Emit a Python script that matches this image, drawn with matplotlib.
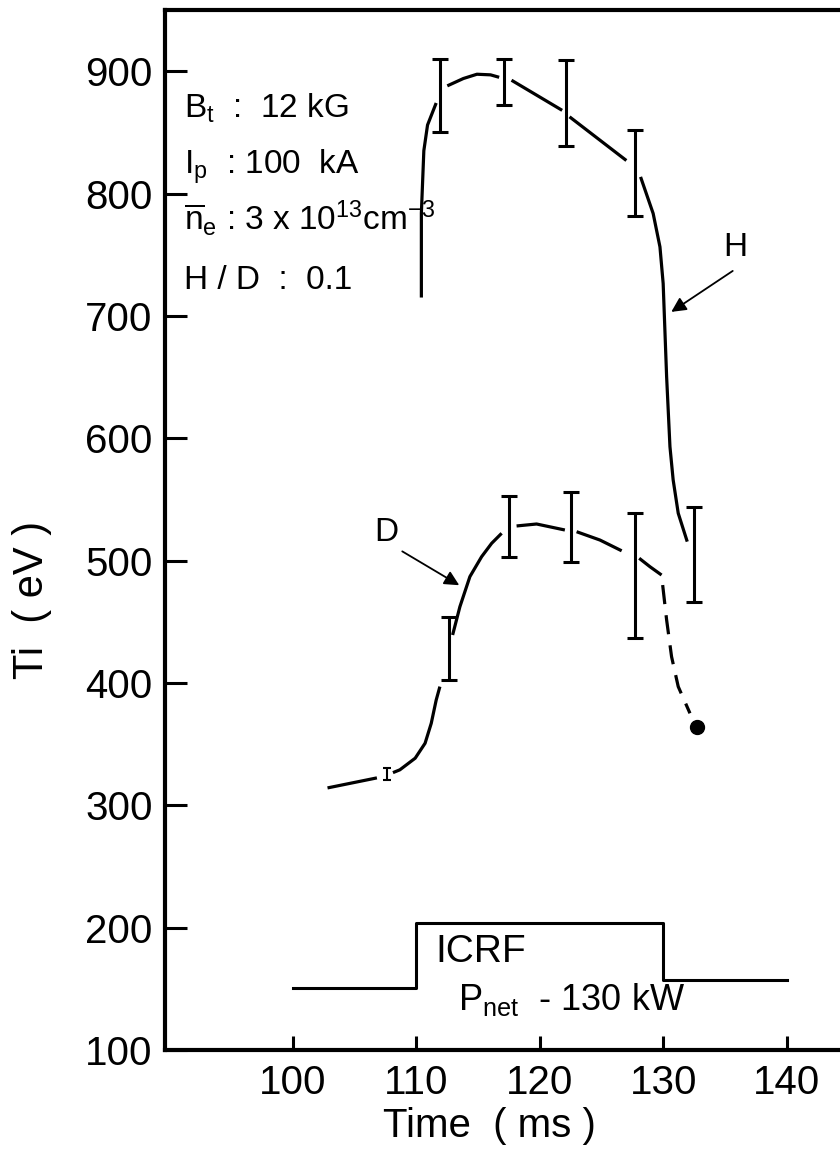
import numpy as np
import matplotlib
matplotlib.use("Agg")
import matplotlib.pyplot as plt

plt.rcParams['font.family'] = ['Liberation Sans', 'DejaVu Sans']
plt.rcParams['mathtext.fontset'] = 'custom'
plt.rcParams['mathtext.rm'] = 'Liberation Sans'
plt.rcParams['mathtext.it'] = 'Liberation Sans'

# H (hydrogen minority) ion temperature, drawn in pieces between error bars
h_segments_t = [
    [110.4, 110.4, 110.6, 110.9, 111.6],
    [112.5, 113.8, 114.9, 116.0, 116.7],
    [117.7, 119.8, 121.8],
    [122.4, 127.0],
    [128.15, 129.17, 129.72, 129.98, 130.26, 130.53, 130.79, 131.2, 131.93],
]
h_segments_ti = [
    [715, 784, 835, 856, 874],
    [888, 894, 897.5, 897, 895],
    [892.6, 880, 868],
    [862.7, 827],
    [813.6, 783.7, 756.4, 726.5, 650.3, 593.1, 565.9, 538.7, 515.5],
]
h_err_t = [111.9, 117.1, 122.1, 127.7, 132.5]
h_err_ti = [880, 891, 874, 817, 505]
h_err = [30, 19, 35, 35, 39]

# D (deuterium majority) ion temperature
d_segments_t = [
    [102.8, 106.8],
    [108.1, 108.66, 109.9, 110.7, 111.2, 111.6, 111.9],
    [112.93, 113.52, 114.33, 115.28, 116.09, 116.9],
    [118.11, 119.73, 122.02],
    [122.97, 124.86, 126.62],
    [128.04, 128.91, 129.85],
]
d_segments_ti = [
    [314.2, 322.4],
    [326.7, 329, 338.5, 350.7, 367, 386, 397],
    [439.2, 462.3, 486.9, 503.2, 514.1, 522.3],
    [528.3, 529.9, 525],
    [523.6, 516.8, 508],
    [501.9, 495, 488.2],
]
d_dash_t = [129.94, 130.26, 130.66, 131.2, 132.15]
d_dash_ti = [480, 451.5, 421.5, 397, 375.2]
d_small_t, d_small_ti, d_small_err = 107.6, 325.5, 5
d_err_t = [112.6, 117.5, 122.5, 127.7]
d_err_ti = [428, 528, 527.5, 488]
d_err = [26, 25, 28.5, 51]
d_end_t, d_end_ti = 132.7, 364

# ICRF pulse trace
icrf_t = [100, 110, 110, 130, 130, 140]
icrf_level = [151, 151, 204, 204, 157, 157]

x_ticks = [100, 110, 120, 130, 140]
y_ticks = [100, 200, 300, 400, 500, 600, 700, 800, 900]

fig = plt.figure(figsize=(8.4, 11.5), dpi=100)
ax = fig.add_axes([165 / 840, 1 - 1050 / 1150, 675 / 840, 1040 / 1150])
ax.set_xlim(89.64, 144.3)
ax.set_ylim(100, 950)

lw = 2.3
for ts, vs in zip(h_segments_t, h_segments_ti):
    ax.plot(ts, vs, color='black', lw=lw, solid_capstyle='butt')
ax.errorbar(h_err_t, h_err_ti, yerr=h_err, fmt='none', ecolor='black',
            elinewidth=2.2, capsize=5.5, capthick=2.2)

for ts, vs in zip(d_segments_t, d_segments_ti):
    ax.plot(ts, vs, color='black', lw=lw, solid_capstyle='butt')
ax.plot(d_dash_t, d_dash_ti, color='black', lw=lw, dashes=(6, 3.5))
ax.errorbar(d_err_t, d_err_ti, yerr=d_err, fmt='none', ecolor='black',
            elinewidth=2.2, capsize=5.5, capthick=2.2)
ax.errorbar([d_small_t], [d_small_ti], yerr=d_small_err, fmt='none',
            ecolor='black', elinewidth=1.5, capsize=3, capthick=1.5)
ax.plot([d_end_t], [d_end_ti], 'o', color='black', ms=10)

ax.plot(icrf_t, icrf_level, color='black', lw=2.2)

# labels with arrows
arrow = dict(arrowstyle='-|>', color='black', lw=1.3, mutation_scale=22)
ax.annotate('', xy=(130.45, 702), xytext=(135.8, 738), arrowprops=arrow)
ax.text(135.8, 756, 'H', fontsize=24, ha='center', va='center')
ax.annotate('', xy=(113.66, 478.7), xytext=(108.66, 508.7), arrowprops=arrow)
ax.text(107.6, 522.6, 'D', fontsize=24, ha='center', va='center')

ax.text(111.5, 180, 'ICRF', fontsize=28, ha='left', va='center')
ax.text(113.4, 141, r'P$_\mathregular{net}$  - 130 kW', fontsize=26,
        ha='left', va='center')

params = [
    r'$\mathregular{B_t}$  :  12 kG',
    r'$\mathregular{I_p}$  : 100  kA',
    r'$\overline{\mathregular{n}}_\mathregular{e}$ : 3 x 10$^{\mathregular{13}}$cm$^{\mathregular{-3}}$',
    'H / D  :  0.1',
]
param_y = [870, 821.6, 779.9, 729.3]
for s, yv in zip(params, param_y):
    ax.text(91.2, yv, s, fontsize=24, ha='left', va='center')

ax.set_xticks(x_ticks)
ax.set_yticks(y_ticks)
ax.tick_params(axis='both', direction='in', labelsize=29, width=2.2, color='black')
ax.tick_params(axis='y', length=16, pad=9)
ax.tick_params(axis='x', length=10, pad=10)

for side in ['left', 'bottom', 'top']:
    ax.spines[side].set_linewidth(3)
ax.spines['right'].set_visible(False)

ax.set_xlabel('Time  ( ms )', fontsize=29)
ax.set_ylabel('Ti  ( eV )', fontsize=30)
ax.yaxis.set_label_coords(-0.167, 0.433)
ax.xaxis.set_label_coords(0.48, -0.055)

fig.savefig('out.png', dpi=100)
